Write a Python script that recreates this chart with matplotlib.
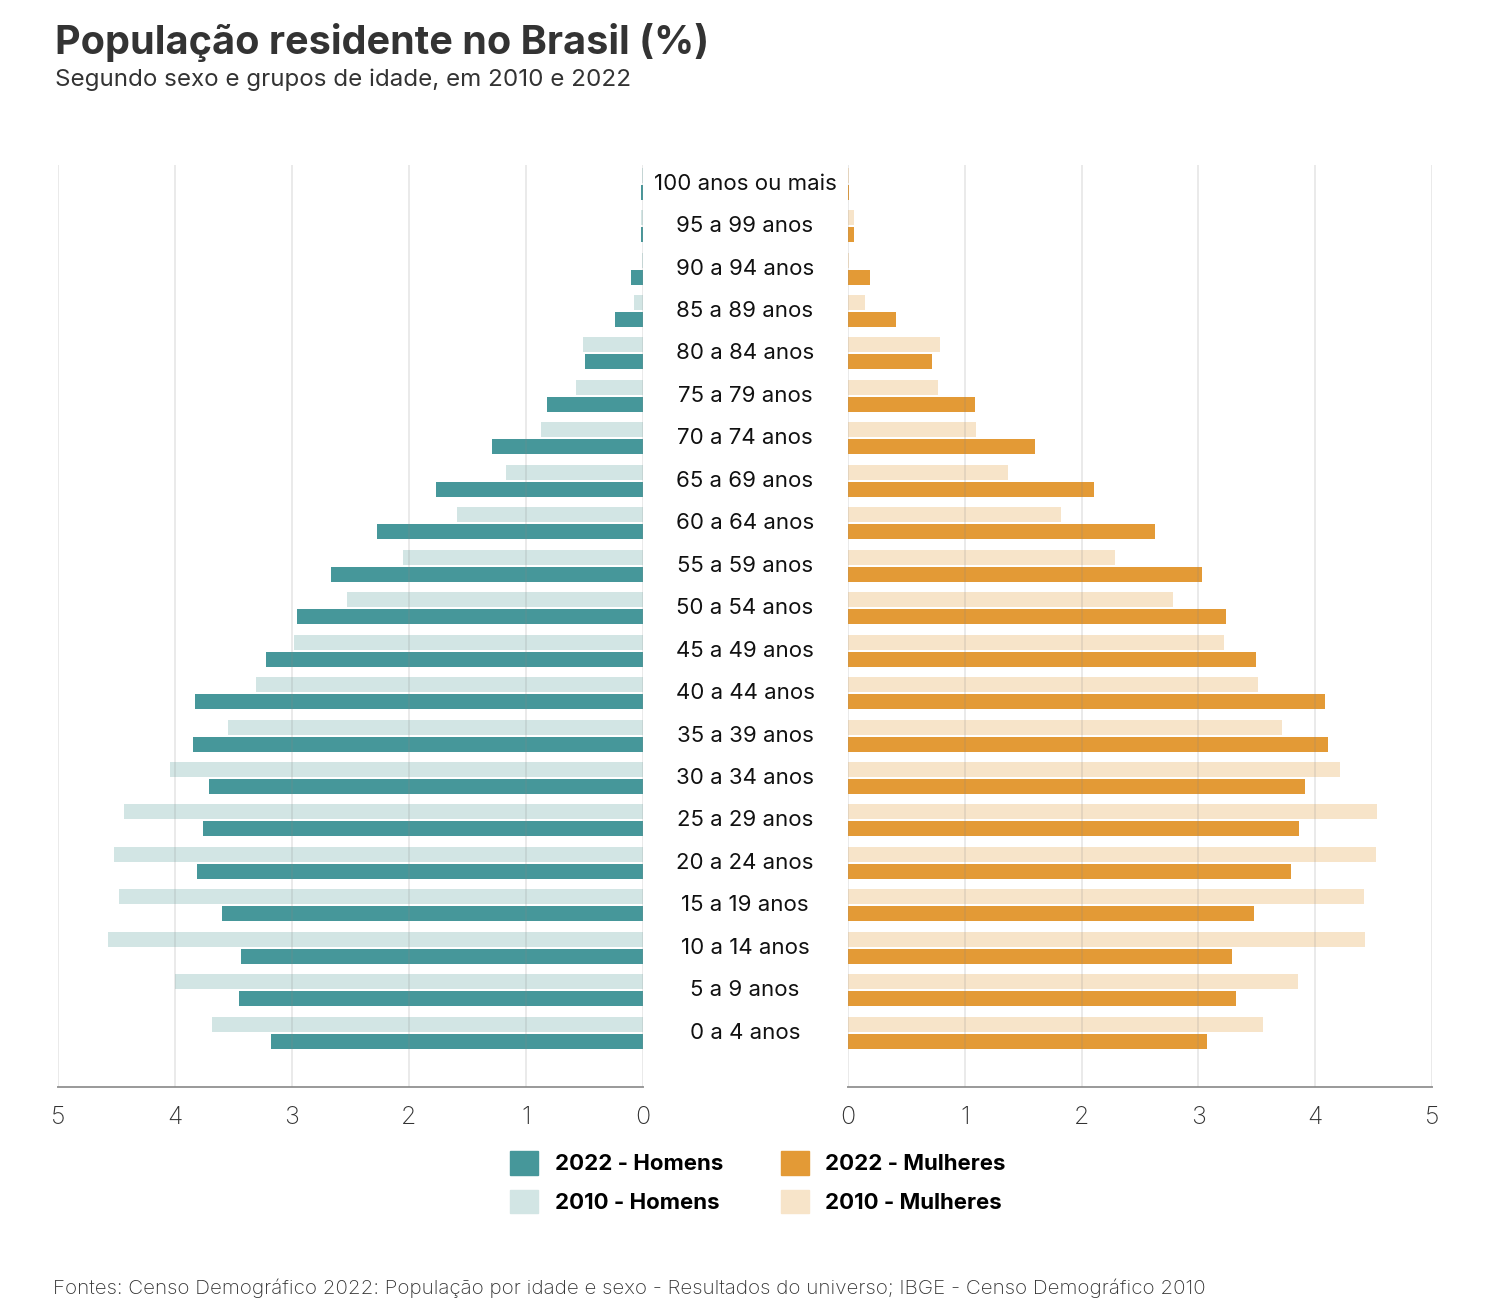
import numpy as np
import matplotlib.pyplot as plt
from matplotlib.patches import Patch
from matplotlib.transforms import blended_transform_factory

plt.rcParams['font.family'] = ['Inter', 'DejaVu Sans']

# Age groups, bottom to top
ages = ['0 a 4 anos', '5 a 9 anos', '10 a 14 anos', '15 a 19 anos', '20 a 24 anos',
        '25 a 29 anos', '30 a 34 anos', '35 a 39 anos', '40 a 44 anos', '45 a 49 anos',
        '50 a 54 anos', '55 a 59 anos', '60 a 64 anos', '65 a 69 anos', '70 a 74 anos',
        '75 a 79 anos', '80 a 84 anos', '85 a 89 anos', '90 a 94 anos', '95 a 99 anos',
        '100 anos ou mais']

men_2022 = [3.18, 3.45, 3.44, 3.60, 3.81, 3.76, 3.71, 3.85, 3.83, 3.22,
            2.96, 2.67, 2.27, 1.77, 1.29, 0.82, 0.50, 0.24, 0.10, 0.02, 0.015]
men_2010 = [3.68, 4.00, 4.57, 4.48, 4.52, 4.44, 4.04, 3.55, 3.31, 2.98,
            2.53, 2.05, 1.59, 1.17, 0.87, 0.575, 0.51, 0.077, 0.005, 0.02, 0.01]
women_2022 = [3.07, 3.32, 3.29, 3.48, 3.79, 3.86, 3.91, 4.11, 4.08, 3.49,
              3.24, 3.03, 2.63, 2.11, 1.60, 1.085, 0.72, 0.41, 0.186, 0.055, 0.01]
women_2010 = [3.55, 3.85, 4.43, 4.42, 4.52, 4.53, 4.21, 3.72, 3.51, 3.22,
              2.78, 2.29, 1.82, 1.37, 1.10, 0.77, 0.785, 0.143, 0.007, 0.055, 0.005]

ticks = [0, 1, 2, 3, 4, 5]

teal = '#46979a'
teal_light = '#d2e5e4'
orange = '#e39a36'
orange_light = '#f7e4c9'
txt = '#333333'

fig = plt.figure(figsize=(15.02, 13.10), dpi=100)
ax_l = fig.add_axes([58 / 1502, 1 - 1087 / 1310, 585 / 1502, 922 / 1310])
ax_r = fig.add_axes([848 / 1502, 1 - 1087 / 1310, 584 / 1502, 922 / 1310])

y = np.arange(len(ages))
h = 0.353
off = 0.2

ax_l.barh(y + off, men_2010, height=h, color=teal_light, zorder=2)
ax_l.barh(y - off, men_2022, height=h, color=teal, zorder=2)
ax_r.barh(y + off, women_2010, height=h, color=orange_light, zorder=2)
ax_r.barh(y - off, women_2022, height=h, color=orange, zorder=2)

ax_l.set_xlim(5, 0)
ax_r.set_xlim(0, 5)
for ax in (ax_l, ax_r):
    ax.set_ylim(-1.28, 20.44)
    ax.set_xticks(ticks)
    ax.set_yticks([])
    for s in ('top', 'left', 'right'):
        ax.spines[s].set_visible(False)
    ax.spines['bottom'].set_color('#999999')
    ax.spines['bottom'].set_linewidth(1.4)
    ax.tick_params(axis='x', length=0, pad=14, labelsize=18, labelcolor=txt)
    ax.grid(axis='x', color='#888888', alpha=0.2, linewidth=1.2, zorder=3)
    ax.set_axisbelow(False)
    for lab in ax.get_xticklabels():
        lab.set_fontweight('light')

# age labels in the gap between the two halves
trans = blended_transform_factory(fig.transFigure, ax_r.transData)
for i, a in enumerate(ages):
    fig.text(745 / 1502, i, a, transform=trans, ha='center', va='center',
             fontsize=16, color='#111111')

fig.text(55 / 1502, 1 - 54 / 1310, 'População residente no Brasil (%)',
         fontsize=28.5, fontweight='bold', color=txt, va='baseline')
fig.text(55 / 1502, 1 - 86 / 1310, 'Segundo sexo e grupos de idade, em 2010 e 2022',
         fontsize=17.4, color=txt, va='baseline')
fig.text(53 / 1502, 1 - 1294 / 1310,
         'Fontes: Censo Demográfico 2022: População por idade e sexo - Resultados do universo; '
         'IBGE - Censo Demográfico 2010',
         fontsize=14.8, fontweight='light', color='#333333', va='baseline')

handles = [Patch(color=teal), Patch(color=teal_light),
           Patch(color=orange), Patch(color=orange_light)]
labels = ['2022 - Homens', '2010 - Homens', '2022 - Mulheres', '2010 - Mulheres']
fig.legend(handles, labels, ncol=2, loc='upper left',
           bbox_to_anchor=(510 / 1502, 1 - 1151 / 1310), frameon=False,
           borderpad=0, borderaxespad=0, handlelength=1.26, handleheight=1.26,
           handletextpad=0.75, columnspacing=2.6, labelspacing=0.68,
           prop={'size': 16, 'weight': 'bold'})

fig.savefig('out.png', dpi=100, facecolor='white')
